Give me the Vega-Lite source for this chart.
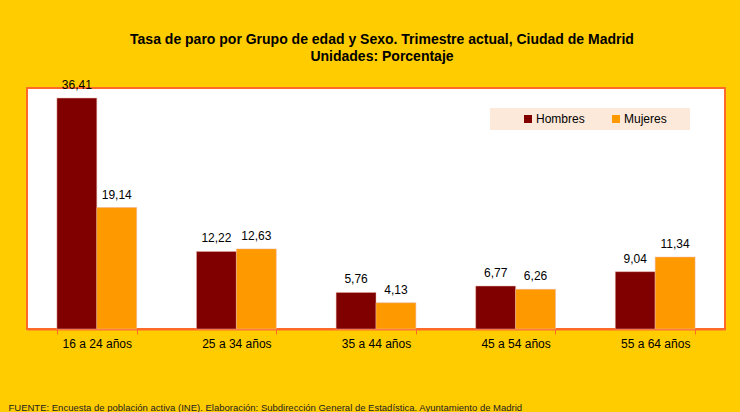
{
  "$schema": "https://vega.github.io/schema/vega-lite/v6.json",
  "autosize": {"type": "none"},
  "width": 698,
  "height": 241,
  "padding": {"left": 27, "top": 88, "right": 15, "bottom": 83},
  "background": "#FFCC00",
  "title": {
    "text": ["Tasa de paro por Grupo de edad y Sexo. Trimestre actual, Ciudad de Madrid", "Unidades: Porcentaje"],
    "font": "Liberation Sans",
    "fontSize": 14,
    "fontWeight": "bold",
    "color": "#000000",
    "anchor": "middle",
    "frame": "group",
    "lineHeight": 17,
    "offset": 15,
    "dx": 6
  },
  "data": {
    "values": [
      {"grupo": "16 a 24 años", "sexo": "Hombres", "tasa": 36.41},
      {"grupo": "16 a 24 años", "sexo": "Mujeres", "tasa": 19.14},
      {"grupo": "25 a 34 años", "sexo": "Hombres", "tasa": 12.22},
      {"grupo": "25 a 34 años", "sexo": "Mujeres", "tasa": 12.63},
      {"grupo": "35 a 44 años", "sexo": "Hombres", "tasa": 5.76},
      {"grupo": "35 a 44 años", "sexo": "Mujeres", "tasa": 4.13},
      {"grupo": "45 a 54 años", "sexo": "Hombres", "tasa": 6.77},
      {"grupo": "45 a 54 años", "sexo": "Mujeres", "tasa": 6.26},
      {"grupo": "55 a 64 años", "sexo": "Hombres", "tasa": 9.04},
      {"grupo": "55 a 64 años", "sexo": "Mujeres", "tasa": 11.34}
    ]
  },
  "encoding": {
    "x": {
      "field": "grupo",
      "type": "nominal",
      "sort": null,
      "scale": {"paddingInner": 0.4286, "paddingOuter": 0.2143},
      "axis": {
        "title": "FUENTE: Encuesta de población activa (INE). Elaboración: Subdirección General de Estadística. Ayuntamiento de Madrid",
        "titleFont": "Liberation Sans",
        "titleFontSize": 9.5,
        "titleFontWeight": "normal",
        "titleColor": "#222222",
        "titleAnchor": "start",
        "titleAlign": "left",
        "titleBaseline": "alphabetic",
        "titleX": -19,
        "titleY": 81,
        "labelAngle": 0,
        "labelFont": "Liberation Sans",
        "labelFontSize": 12,
        "labelColor": "#000000",
        "labelPadding": 4,
        "tickSize": 5,
        "tickColor": "#FF6A2A",
        "tickBand": "extent",
        "domainColor": "#FF6A2A",
        "domainWidth": 2,
        "grid": false
      }
    },
    "xOffset": {"field": "sexo", "type": "nominal", "scale": {"paddingInner": 0, "paddingOuter": 0}},
    "y": {
      "field": "tasa",
      "type": "quantitative",
      "scale": {"domain": [0, 38], "nice": false},
      "axis": null
    }
  },
  "layer": [
    {
      "mark": {"type": "bar", "stroke": "#E8B0A0", "strokeWidth": 0.5},
      "encoding": {
        "color": {
          "field": "sexo",
          "type": "nominal",
          "scale": {"domain": ["Hombres", "Mujeres"], "range": ["#800000", "#FF9900"]},
          "legend": {
            "title": "\u2800\u2800\u2800",
            "titleOrient": "left",
            "titlePadding": 0,
            "titleFontSize": 12,
            "titleColor": "#FDE9D9",
            "orient": "none",
            "legendX": 463,
            "legendY": 20,
            "direction": "horizontal",
            "fillColor": "#FDE9D9",
            "padding": 5,
            "symbolType": "square",
            "symbolSize": 64,
            "symbolStrokeWidth": 0,
            "labelOffset": 2,
            "columnPadding": 25,
            "labelFont": "Liberation Sans",
            "labelFontSize": 12,
            "labelColor": "#000000",
            "labelExpr": "datum.label == 'Mujeres' ? 'Mujeres\u2800\u2800' : datum.label"
          }
        }
      }
    },
    {
      "mark": {"type": "text", "baseline": "bottom", "dy": -6, "font": "Liberation Sans", "fontSize": 12, "color": "#000000"},
      "encoding": {
        "text": {"field": "tasa", "type": "quantitative", "format": ".2f"}
      }
    }
  ],
  "config": {
    "locale": {"number": {"decimal": ",", "thousands": ".", "grouping": [3], "currency": ["", " €"]}},
    "view": {"stroke": "#FF6A2A", "strokeWidth": 2, "fill": "#FFFFFF"}
  }
}
